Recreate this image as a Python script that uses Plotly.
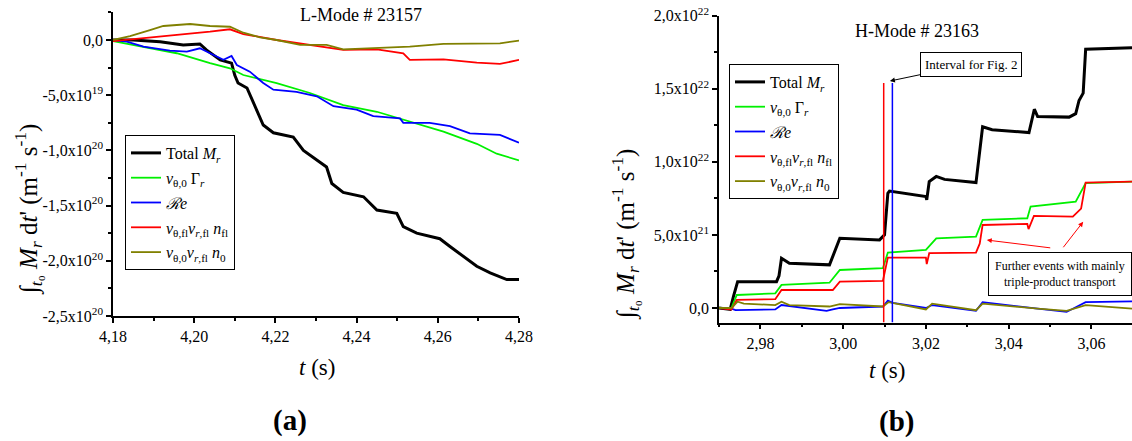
import plotly.graph_objects as go

W, H = 1132, 441
SERIF = "Liberation Serif"

# ---------------- Panel (a): L-Mode # 23157 (values in 1e19 m^-1 s^-1) ----------------
SCALE_A = 1e19
tA_total = [4.180, 4.185, 4.1916, 4.1973, 4.2014, 4.203, 4.2064, 4.2092, 4.2100, 4.2108, 4.213,
            4.2154, 4.217, 4.2195, 4.2244, 4.2269, 4.2326, 4.2339, 4.2367, 4.2417, 4.245, 4.2499,
            4.2515, 4.2548, 4.2605, 4.263, 4.2663, 4.2696, 4.2729, 4.277, 4.280]
vA_total = [0, 0, -0.15, -0.45, -0.36, -0.9, -1.8, -2.1, -3.2, -3.9, -4.35,
            -6.3, -7.7, -8.4, -8.8, -10.0, -11.5, -13.0, -13.8, -14.2, -15.4, -15.7,
            -16.9, -17.5, -18.0, -18.7, -19.6, -20.5, -21.1, -21.7, -21.7]

tA_gamma = [4.180, 4.1875, 4.1957, 4.2039, 4.2088, 4.2121, 4.2203, 4.2285, 4.2367, 4.245,
            4.2531, 4.2614, 4.2696, 4.2745, 4.280]
vA_gamma = [-0.1, -0.6, -1.2, -2.1, -2.56, -3.17, -3.9, -4.8, -5.9, -6.5,
            -7.4, -8.3, -9.4, -10.3, -10.9]

tA_re = [4.180, 4.1834, 4.1875, 4.194, 4.1982, 4.2014, 4.2039, 4.2072, 4.2092, 4.2105, 4.2137,
         4.217, 4.2195, 4.2252, 4.2302, 4.2343, 4.240, 4.2441, 4.2507, 4.2515, 4.258, 4.263,
         4.2679, 4.2753, 4.280]
vA_re = [0, -0.14, -0.6, -0.97, -1.06, -0.75, -1.2, -1.8, -1.45, -2.26, -2.87,
         -3.9, -4.5, -4.7, -5.1, -6.0, -6.3, -6.9, -7.1, -7.5, -7.5, -7.8,
         -8.45, -8.6, -9.3]

tA_fl = [4.180, 4.1875, 4.1957, 4.2039, 4.2088, 4.2121, 4.2203, 4.2285, 4.2367, 4.245,
         4.2515, 4.2531, 4.2614, 4.2696, 4.2753, 4.280]
vA_fl = [-0.1, 0.15, 0.45, 0.75, 0.97, 0.54, 0, -0.45, -0.9, -0.85,
         -1.2, -1.8, -1.75, -2.05, -2.17, -1.8]

tA_n0 = [4.180, 4.1842, 4.1891, 4.1924, 4.199, 4.2039, 4.2088, 4.2121, 4.2162, 4.2203,
         4.2261, 4.2326, 4.2367, 4.245, 4.2531, 4.2614, 4.2696, 4.2753, 4.280]
vA_n0 = [0, 0.36, 0.9, 1.27, 1.45, 1.27, 1.2, 0.66, 0.24, 0,
         -0.45, -0.45, -0.85, -0.75, -0.6, -0.36, -0.36, -0.3, -0.06]

xA_ticks = [4.18, 4.20, 4.22, 4.24, 4.26, 4.28]
xA_ticktext = ["4,18", "4,20", "4,22", "4,24", "4,26", "4,28"]
xA_minor = [4.19, 4.21, 4.23, 4.25, 4.27]
yA_ticks = [0, -5e19, -1e20, -1.5e20, -2e20, -2.5e20]
yA_ticktext = ["0,0", "-5,0x10<sup>19</sup>", "-1,0x10<sup>20</sup>", "-1,5x10<sup>20</sup>",
               "-2,0x10<sup>20</sup>", "-2,5x10<sup>20</sup>"]
yA_minor = [2.5e19, -2.5e19, -7.5e19, -1.25e20, -1.75e20, -2.25e20]
xA_range = [4.18, 4.28]
yA_range = [-2.5e20, 2.5e19]

# ---------------- Panel (b): H-Mode # 23163 (values in 1e21 m^-1 s^-1) ----------------
SCALE_B = 1e21
tB_total = [2.970, 2.9727, 2.9735, 2.9745, 2.9839, 2.9845, 2.9851, 2.987, 2.9967, 2.9975, 2.9992,
            3.0088, 3.0100, 3.0108, 3.0112, 3.0200, 3.0202, 3.0208, 3.0225, 3.0245, 3.0321, 3.0337,
            3.0360, 3.0449, 3.0457, 3.0462, 3.0470, 3.0546, 3.0562, 3.0570, 3.0580, 3.0586, 3.0698]
vB_total = [0, -0.1, 0.8, 1.8, 1.8, 2.2, 3.4, 3.06, 2.95, 3.5, 4.77,
            4.66, 5.0, 7.85, 8.0, 7.62, 7.4, 8.65, 9.0, 8.8, 8.58, 12.4,
            12.2, 12.0, 13.1, 13.6, 13.1, 13.06, 13.3, 14.2, 14.7, 17.7, 17.8]

tB_gamma = [2.970, 2.9730, 2.9743, 2.9836, 2.9851, 2.9967, 2.9992, 3.0096, 3.0108, 3.0200,
            3.0225, 3.0321, 3.0337, 3.0445, 3.0453, 3.0562, 3.0586, 3.0698]
vB_gamma = [0, 0, 0.89, 1.0, 1.58, 1.73, 2.6, 2.72, 3.79, 3.97,
            4.77, 4.88, 6.03, 6.14, 6.94, 7.28, 8.54, 8.65]

tB_fl = [2.970, 2.9730, 2.9743, 2.9836, 2.9851, 2.9975, 2.9992, 3.0096, 3.0108, 3.0200, 3.0202,
         3.0208, 3.0321, 3.0330, 3.0337, 3.0445, 3.0448, 3.0461, 3.0555, 3.0575, 3.0586, 3.0698]
vB_fl = [0, -0.1, 0.55, 0.6, 1.23, 1.23, 1.8, 1.85, 3.45, 3.45, 3.0,
         3.75, 3.79, 4.4, 5.68, 5.75, 5.4, 6.3, 6.25, 6.8, 8.58, 8.65]

tB_re = [2.970, 2.9730, 2.9740, 2.9836, 2.9851, 2.9960, 2.9975, 2.9992, 3.0096, 3.0108,
         3.0120, 3.0200, 3.0215, 3.0321, 3.0337, 3.0445, 3.0470, 3.0540, 3.0586, 3.0698]
vB_re = [0, -0.05, -0.14, -0.1, 0.2, -0.2, -0.1, 0, 0.1, 0.5,
         0.35, 0, 0.2, -0.2, 0.4, 0, -0.05, -0.27, 0.4, 0.45]

tB_n0 = [2.970, 2.9730, 2.9745, 2.9760, 2.9836, 2.9851, 2.9870, 2.9967, 2.9992, 3.0096,
         3.0110, 3.0200, 3.0215, 3.0321, 3.0337, 3.0445, 3.0470, 3.0540, 3.0586, 3.0698]
vB_n0 = [0, 0, 0.43, 0.3, 0.2, 0.43, 0.2, 0.1, 0.27, 0.1,
         0.4, -0.1, 0.3, -0.15, 0.3, 0, -0.05, -0.2, 0.2, -0.05]

# interval markers for Fig. 2
tB_interval_red = 3.0098
tB_interval_blue = 3.0119
vB_interval_top = 15.4

xB_ticks = [2.98, 3.00, 3.02, 3.04, 3.06]
xB_ticktext = ["2,98", "3,00", "3,02", "3,04", "3,06"]
xB_minor = [2.97, 2.99, 3.01, 3.03, 3.05]
yB_ticks = [0, 5e21, 1e22, 1.5e22, 2e22]
yB_ticktext = ["0,0", "5,0x10<sup>21</sup>", "1,0x10<sup>22</sup>", "1,5x10<sup>22</sup>",
               "2,0x10<sup>22</sup>"]
yB_minor = [2.5e21, 7.5e21, 1.25e22, 1.75e22]
xB_range = [2.97, 3.0698]
yB_range = [-1e21, 2e22]

names = ["Total <i>M</i><sub><i>r</i></sub>",
         "<i>v</i><sub>θ,0</sub> Γ<sub><i>r</i></sub>",
         "<i>ℛe</i>",
         "<i>v</i><sub>θ,fl</sub><i>v</i><sub><i>r</i>,fl</sub> <i>n</i><sub>fl</sub>",
         "<i>v</i><sub>θ,0</sub><i>v</i><sub><i>r</i>,fl</sub> <i>n</i><sub>0</sub>"]
colors = ["#000000", "#00f000", "#0000ff", "#ff0000", "#808000"]
widths = [3, 1.8, 1.8, 1.8, 1.8]

fig = go.Figure()

seriesA = [(tA_total, vA_total), (tA_gamma, vA_gamma), (tA_re, vA_re), (tA_fl, vA_fl), (tA_n0, vA_n0)]
seriesB = [(tB_total, vB_total), (tB_gamma, vB_gamma), (tB_re, vB_re), (tB_fl, vB_fl), (tB_n0, vB_n0)]

for i in range(5):
    t, v = seriesA[i]
    fig.add_trace(go.Scatter(x=t, y=[a * SCALE_A for a in v], mode="lines", name=names[i],
                             line=dict(color=colors[i], width=widths[i]),
                             xaxis="x", yaxis="y", legend="legend", legendgroup="a%d" % i,
                             showlegend=True))
for i in range(5):
    t, v = seriesB[i]
    fig.add_trace(go.Scatter(x=t, y=[a * SCALE_B for a in v], mode="lines", name=names[i],
                             line=dict(color=colors[i], width=widths[i]),
                             xaxis="x2", yaxis="y2", legend="legend2", legendgroup="b%d" % i,
                             showlegend=True))

fig.add_trace(go.Scatter(x=[tB_interval_red, tB_interval_red],
                         y=[yB_range[0], vB_interval_top * SCALE_B], mode="lines",
                         line=dict(color="#ff0000", width=1.5), xaxis="x2", yaxis="y2",
                         showlegend=False, hoverinfo="skip"))
fig.add_trace(go.Scatter(x=[tB_interval_blue, tB_interval_blue],
                         y=[yB_range[0], vB_interval_top * SCALE_B], mode="lines",
                         line=dict(color="#0000ff", width=1.5), xaxis="x2", yaxis="y2",
                         showlegend=False, hoverinfo="skip"))


def px(x):
    return x / W


def py(y):
    return 1 - y / H


axis_common = dict(showline=True, linecolor="black", linewidth=1.5, ticks="outside",
                   ticklen=5, tickwidth=1.5, tickcolor="black", showgrid=False, zeroline=False,
                   tickfont=dict(family=SERIF, size=16, color="black"), mirror=False,
                   automargin=False)

fig.update_layout(
    template="none",
    width=W, height=H,
    margin=dict(l=0, r=0, t=0, b=0, pad=0),
    paper_bgcolor="white", plot_bgcolor="white",
    font=dict(family=SERIF, color="black"),
    xaxis=dict(domain=[px(113), px(519)], range=xA_range, anchor="y", tickmode="array",
               tickvals=xA_ticks, ticktext=xA_ticktext,
               minor=dict(tickmode="array", tickvals=xA_minor, ticks="outside", ticklen=3,
                          tickwidth=1.5, tickcolor="black"), **axis_common),
    yaxis=dict(domain=[py(316), py(12.4)], range=yA_range, anchor="x", tickmode="array",
               tickvals=yA_ticks, ticktext=yA_ticktext,
               minor=dict(tickmode="array", tickvals=yA_minor, ticks="outside", ticklen=3,
                          tickwidth=1.5, tickcolor="black"), **axis_common),
    xaxis2=dict(domain=[px(719), 1.0], range=xB_range, anchor="y2", tickmode="array",
                tickvals=xB_ticks, ticktext=xB_ticktext,
                minor=dict(tickmode="array", tickvals=xB_minor, ticks="outside", ticklen=3,
                           tickwidth=1.5, tickcolor="black"), **axis_common),
    yaxis2=dict(domain=[py(322.6), py(15.7)], range=yB_range, anchor="x2", tickmode="array",
                tickvals=yB_ticks, ticktext=yB_ticktext,
                minor=dict(tickmode="array", tickvals=yB_minor, ticks="outside", ticklen=3,
                           tickwidth=1.5, tickcolor="black"), **axis_common),
    legend=dict(x=px(125), y=py(135), xanchor="left", yanchor="top", bordercolor="black",
                borderwidth=1, bgcolor="white", font=dict(family=SERIF, size=16, color="black"),
                traceorder="grouped", tracegroupgap=1, itemwidth=30),
    legend2=dict(x=px(729), y=py(64), xanchor="left", yanchor="top", bordercolor="black",
                 borderwidth=1, bgcolor="white", font=dict(family=SERIF, size=16, color="black"),
                 traceorder="grouped", tracegroupgap=1, itemwidth=30),
    showlegend=True,
)


def label(text, x, y, size, angle=0):
    return dict(text=text, x=px(x), y=py(y), xref="paper", yref="paper", xanchor="center",
                yanchor="middle", textangle=angle, showarrow=False,
                font=dict(size=size, family=SERIF, color="black"))


ytitle = ("∫<sub><i>t</i>₀</sub> <i>M</i><sub><i>r</i></sub> d<i>t</i>' "
          "(m<sup>-1</sup> s<sup>-1</sup>)")
ann = [
    label("L-Mode # 23157", 361, 15, 18),
    label("H-Mode # 23163", 917, 31, 18),
    label(ytitle, 28, 210, 25, -90),
    label(ytitle, 625, 235, 25, -90),
    label("<i>t</i> (s)", 316.5, 367, 23),
    label("<i>t</i> (s)", 887, 370, 23),
    label("<b>(a)</b>", 289.5, 420, 29),
    label("<b>(b)</b>", 896, 421.7, 29),
]
# Interval for Fig. 2
ann.append(dict(text="Interval for Fig. 2", x=3.0113, y=1.553e22, xref="x2", yref="y2",
                ax=81, ay=-17, showarrow=True, arrowhead=2, arrowsize=1, arrowwidth=1,
                arrowcolor="black", bordercolor="black", borderwidth=1, borderpad=4,
                bgcolor="white", font=dict(size=13, family=SERIF, color="black")))
# Further events box
box = label("Further events with mainly<br>triple-product transport", 1060, 273.5, 12)
box.update(bordercolor="black", borderwidth=1, borderpad=6, bgcolor="white")
ann.append(box)
ann.append(dict(text="", x=3.0347, y=4.65e21, xref="x2", yref="y2", ax=65, ay=8,
                showarrow=True, arrowhead=2, arrowsize=1, arrowwidth=1, arrowcolor="#ff0000"))
ann.append(dict(text="", x=3.058, y=5.9e21, xref="x2", yref="y2", ax=-21, ay=27,
                showarrow=True, arrowhead=2, arrowsize=1, arrowwidth=1, arrowcolor="#ff0000"))
fig.update_layout(annotations=ann)

fig.write_html("out.html", config={"displayModeBar": False},
               post_script="document.body.style.margin='0px';")
